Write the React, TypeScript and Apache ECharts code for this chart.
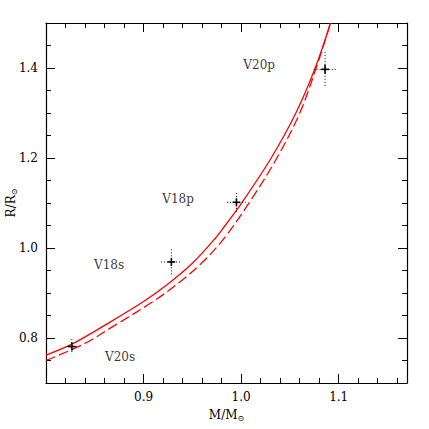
import React, { useEffect, useRef } from "react";
import * as echarts from "echarts";

// Model tracks (M/Msun, R/Rsun)
const solidM = [0.8, 0.827, 0.86, 0.9, 0.925, 0.95, 0.9733, 0.9836, 1.001, 1.0308, 1.0561, 1.0759, 1.0916];
const solidR = [0.762, 0.787, 0.828, 0.881, 0.92, 0.966, 1.021, 1.05, 1.1015, 1.2, 1.3, 1.4, 1.5];
const dashM = [0.8, 0.839, 0.8705, 0.9097, 0.9345, 0.9593, 0.9823, 1.0085, 1.0366, 1.0601, 1.0769, 1.0916];
const dashR = [0.75, 0.787, 0.828, 0.881, 0.92, 0.966, 1.021, 1.1015, 1.2, 1.3, 1.4, 1.5];

// Observed components with errors
const pointM = [0.8265, 0.9285, 0.9952, 1.086];
const pointR = [0.781, 0.969, 1.1015, 1.397];
const errM = [0.005, 0.0106, 0.0096, 0.0116];
const errR = [0.017, 0.028, 0.021, 0.039];
const errMsmall = [0.004, 0.004, 0.004, 0.004];
const errRsmall = [0.009, 0.009, 0.009, 0.01];

// Text labels
const labelNames = ["V20p", "V18p", "V18s", "V20s"];
const labelM = [1.0185, 0.9354, 0.8646, 0.8759];
const labelR = [1.406, 1.1082, 0.9616, 0.7584];

// Ticks
const xMajor = [0.9, 1.0, 1.1];
const yMajor = [0.8, 1.0, 1.2, 1.4];

const FONT = "DejaVu Serif";

export default function App() {
  const ref = useRef<HTMLDivElement>(null);
  useEffect(() => {
    if (!ref.current) return;
    const chart = echarts.init(ref.current, null, { renderer: "svg" });
    const line = { color: "#000", width: 1.2 };
    const tick = { color: "#000", width: 1 };
    const xBase = { type: "value", min: 0.8, max: 1.17, splitLine: { show: false }, axisLine: { show: true, onZero: false, lineStyle: line } };
    const yBase = { type: "value", min: 0.7, max: 1.5, splitLine: { show: false }, axisLine: { show: true, onZero: false, lineStyle: line } };
    const labelStyle = { color: "#000", fontFamily: FONT, fontSize: 12 };
    const rich = {
      n: { fontFamily: FONT, fontSize: 12, color: "#000" },
      s: { fontFamily: FONT, fontSize: 8, color: "#000", padding: [6, 0, 0, 0] },
    };
    const minorAxis = (base: any, position: string) => ({
      ...base,
      position,
      interval: position === "left" || position === "right" ? 0.05 : 0.02,
      axisTick: { show: true, inside: true, length: 5, lineStyle: tick },
      axisLabel: { show: false },
    });
    const majorAxis = (base: any, position: string, values: number[], withLabel: boolean, name?: string, gap?: number) => ({
      ...base,
      position,
      axisLine: { show: false },
      axisTick: { show: true, inside: true, length: 9, lineStyle: tick, customValues: values },
      axisLabel: withLabel
        ? { show: true, customValues: values, formatter: (v: number) => v.toFixed(1), margin: 8, ...labelStyle }
        : { show: false },
      name: name,
      nameLocation: "middle",
      nameGap: gap,
      nameMoveOverlap: false,
      nameTextStyle: { rich },
    });

    const errData = pointM.map((m, i) => [m, pointR[i], errM[i], errR[i], errMsmall[i], errRsmall[i]]);

    chart.setOption({
      animation: false,
      backgroundColor: "#fff",
      grid: { left: 46, top: 23, right: 22, bottom: 46, containLabel: false, outerBoundsMode: "none" },
      xAxis: [
        minorAxis(xBase, "bottom"),
        majorAxis(xBase, "bottom", xMajor, true, "{n|M/M}{s|⊙}", 25),
        minorAxis(xBase, "top"),
        majorAxis(xBase, "top", xMajor, false),
      ],
      yAxis: [
        minorAxis(yBase, "left"),
        majorAxis(yBase, "left", yMajor, true, "{n|R/R}{s|⊙}", 28),
        minorAxis(yBase, "right"),
        majorAxis(yBase, "right", yMajor, false),
      ],
      series: [
        {
          type: "line",
          data: solidM.map((m, i) => [m, solidR[i]]),
          smooth: 0.35,
          symbol: "none",
          lineStyle: { color: "#ff0000", width: 1.3 },
          xAxisIndex: 0,
          yAxisIndex: 0,
          z: 3,
        },
        {
          type: "line",
          data: dashM.map((m, i) => [m, dashR[i]]),
          smooth: 0.35,
          symbol: "none",
          lineStyle: { color: "#ff0000", width: 1.3, type: [10, 4] },
          xAxisIndex: 0,
          yAxisIndex: 0,
          z: 3,
        },
        {
          type: "custom",
          coordinateSystem: "cartesian2d",
          xAxisIndex: 0,
          yAxisIndex: 0,
          data: errData,
          z: 4,
          renderItem: (params: any, api: any) => {
            const x = api.value(0), y = api.value(1);
            const ex = api.value(2), ey = api.value(3), sx = api.value(4), sy = api.value(5);
            const l = api.coord([x - ex, y]), r = api.coord([x + ex, y]);
            const t = api.coord([x, y + ey]), b = api.coord([x, y - ey]);
            const sl = api.coord([x - sx, y]), sr = api.coord([x + sx, y]);
            const st = api.coord([x, y + sy]), sb = api.coord([x, y - sy]);
            const dot = { stroke: "#000", lineWidth: 1, lineDash: [1, 2] };
            const sol = { stroke: "#000", lineWidth: 1.6 };
            const mk = (p: number[], q: number[], style: any) => ({
              type: "line",
              shape: { x1: p[0], y1: p[1], x2: q[0], y2: q[1] },
              style,
            });
            return {
              type: "group",
              children: [mk(l, r, dot), mk(t, b, dot), mk(sl, sr, sol), mk(st, sb, sol)],
            };
          },
        },
        {
          type: "scatter",
          data: labelM.map((m, i) => [m, labelR[i]]),
          symbolSize: 1,
          itemStyle: { color: "rgba(0,0,0,0)" },
          label: {
            show: true,
            position: "inside",
            formatter: (p: any) => labelNames[p.dataIndex],
            ...labelStyle,
          },
          xAxisIndex: 0,
          yAxisIndex: 0,
          silent: true,
        },
      ],
    });
    return () => chart.dispose();
  }, []);
  return <div ref={ref} style={{ width: 429, height: 429, position: "absolute", left: 0, top: 0 }} />;
}
